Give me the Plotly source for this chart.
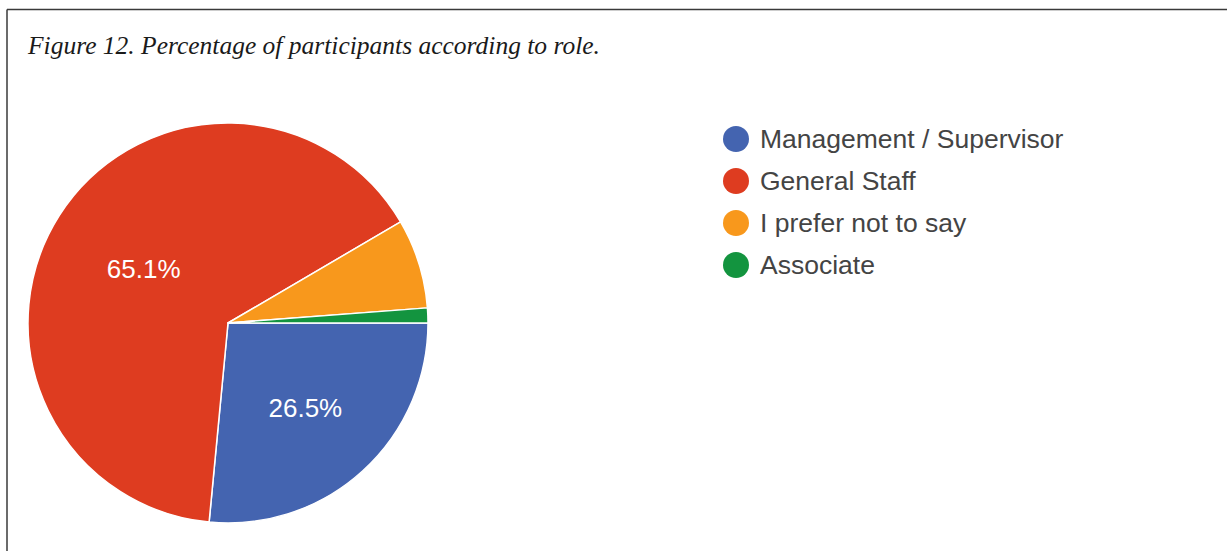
import plotly.graph_objects as go

# ---- data ----
categories = ["Management / Supervisor", "General Staff", "I prefer not to say", "Associate"]
counts = [22, 54, 6, 1]
colors = ["#4464B0", "#DE3C20", "#F8981C", "#13943F"]
show_label = [True, True, False, False]
title_text = "Figure 12. Percentage of participants according to role."

W, H = 1227, 551

def px(x):
    return x / W

def py(y):
    return 1 - y / H

# pie geometry (pixels)
cx, cy, r = 228, 323, 200

fig = go.Figure()
fig.add_trace(go.Pie(
    labels=categories,
    values=counts,
    sort=False,
    direction="clockwise",
    rotation=90,
    marker=dict(colors=colors, line=dict(color="white", width=1.5)),
    texttemplate=["%{percent:.1%}" if s else "" for s in show_label],
    textposition="inside",
    insidetextorientation="horizontal",
    textfont=dict(family="Arial, Liberation Sans, sans-serif", size=26, color="white"),
    domain=dict(x=[px(cx - r), px(cx + r)], y=[py(cy + r), py(cy - r)]),
    showlegend=False,
    hoverinfo="label+percent",
))

shapes = [
    dict(type="line", xref="paper", yref="paper", x0=px(7), x1=px(7), y0=0, y1=py(9.5),
         line=dict(color="#3a3a3a", width=1.5)),
    dict(type="line", xref="paper", yref="paper", x0=px(7), x1=1, y0=py(9.5), y1=py(9.5),
         line=dict(color="#3a3a3a", width=1.5)),
]
annotations = [
    dict(text="<i>" + title_text + "</i>", xref="paper", yref="paper", x=px(25), y=py(46),
         xanchor="left", yanchor="middle", showarrow=False,
         font=dict(family="Times New Roman, Liberation Serif, serif", size=25.5, color="#1a1a1a")),
]

# legend (circle + text), built from the category list
leg_x, leg_y0, leg_dy, d = 736, 139, 42, 26
for i, (cat, col) in enumerate(zip(categories, colors)):
    yc = leg_y0 + i * leg_dy
    shapes.append(dict(type="circle", xref="paper", yref="paper",
                       x0=px(leg_x - d / 2), x1=px(leg_x + d / 2),
                       y0=py(yc + d / 2), y1=py(yc - d / 2),
                       fillcolor=col, line=dict(width=0)))
    annotations.append(dict(text=cat, xref="paper", yref="paper", x=px(758), y=py(yc),
                            xanchor="left", yanchor="middle", showarrow=False,
                            font=dict(family="Arial, Liberation Sans, sans-serif", size=26.5, color="#444444")))

fig.update_layout(
    width=W, height=H,
    margin=dict(l=0, r=0, t=0, b=0),
    paper_bgcolor="white",
    plot_bgcolor="white",
    shapes=shapes,
    annotations=annotations,
)

fig.write_html("out.html")
